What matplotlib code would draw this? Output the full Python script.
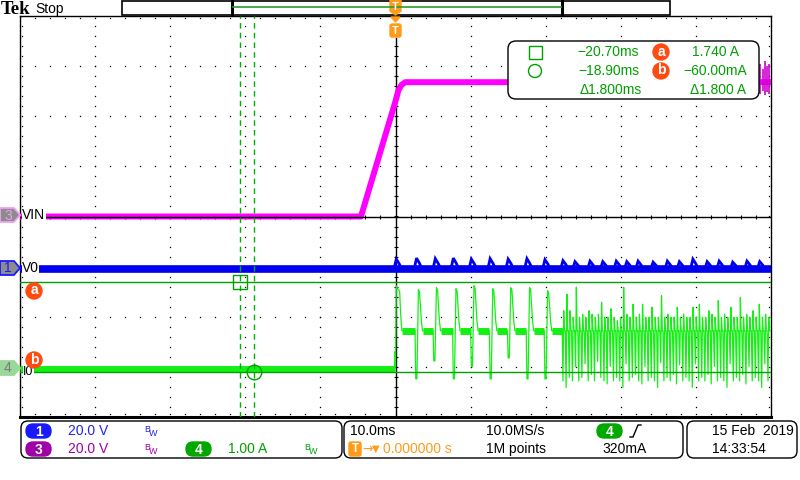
import numpy as np
import matplotlib.pyplot as plt
from matplotlib.patches import FancyBboxPatch, Polygon, Circle, Rectangle

plt.rcParams['font.family'] = ['Liberation Sans', 'DejaVu Sans']

# scope settings
T_DIV = 10.0        # ms/div
CH1_SCALE = 20.0    # V/div
CH3_SCALE = 20.0    # V/div
CH4_SCALE = 1.0     # A/div
CH1_POS = -1.04     # div
CH3_POS = 0.0
CH4_POS = -3.04

# cursors
cur1_t = -20.70   # ms
cur2_t = -18.90
cur_a = 1.740     # A
cur_b = -0.060

# ch3 VIN (V)
vin_t = [-50.0, -4.6, -1.9, 0.0, 0.4, 0.8, 1.3, 50.0]
vin_v = [0.0, 0.0, 27.0, 46.0, 50.5, 52.5, 53.6, 53.6]
vin_burst_t = [48.6, 48.9, 49.2, 49.5, 49.8]
vin_burst_hi = [61.0, 59.0, 62.0, 60.0, 61.0]
vin_burst_lo = [49.0, 50.0, 48.5, 49.5, 49.0]

# ch1 V0 (V) - ripple bumps after turn-on
v0_bump_t = [0.1, 2.8, 5.3, 7.7, 10.1, 12.6, 15.0, 17.5, 19.9, 22.3, 23.9, 25.9, 27.6,
             29.4, 30.8, 32.3, 34.3, 36.2, 37.8, 39.6, 41.5, 43.1, 44.9, 46.8, 48.5]
v0_bump_v = [3.8, 4.2, 4.0, 4.2, 3.8, 4.0, 3.8, 4.0, 3.6, 3.2, 2.8, 3.0, 2.8,
             3.0, 2.8, 3.0, 2.6, 3.0, 2.8, 3.8, 2.8, 3.0, 2.6, 3.0, 2.8]

# ch4 I0 (A)
ch4_start_t = [-50.0, -0.1, -0.05, 0.0, 0.1, 0.3, 0.55, 0.65, 0.75, 0.85]
ch4_start_i = [0.0, 0.0, 0.35, 0.05, 1.66, 1.60, 1.55, 1.20, 0.95, 0.76]
ch4_plateau = 0.76
pulse_t = [2.6, 5.0, 7.6, 10.0, 12.5, 14.9, 17.4, 19.8]
pulse_lo = [-0.20, 0.16, -0.20, 0.05, -0.20, 0.22, -0.20, -0.20]
pulse_hi = [1.58, 1.62, 1.60, 1.66, 1.60, 1.62, 1.62, 1.56]
burst_t0 = 22.3
burst_dt = 0.42
burst_hi = [1.16, 1.49, 1.16, 1.03, 1.63, 1.03, 1.09, 1.03, 1.16, 1.09,
            1.03, 1.09, 1.33, 1.03, 1.03, 1.20, 1.03, 0.96, 1.03, 1.63,
            1.09, 1.03, 1.29, 1.03, 1.09, 1.29, 1.03, 1.03, 1.23, 1.03,
            1.03, 1.46, 1.03, 1.09, 1.03, 1.03, 1.23, 1.03, 1.09, 1.03,
            1.03, 1.23, 1.03, 1.29, 1.03, 1.03, 1.16, 1.09, 1.03, 1.36,
            1.03, 1.09, 1.03, 1.23, 1.03, 1.03, 1.42, 1.03, 1.09, 1.03,
            1.16, 1.03, 1.29, 1.03, 1.09, 1.03]
burst_lo = [-0.24, -0.37, -0.17, -0.24, 0.05, -0.24, -0.17, 0.10, -0.24, -0.11,
            -0.24, 0.15, -0.17, -0.24, -0.30, 0.05, -0.24, -0.17, -0.24, -0.37,
            0.10, -0.24, -0.17, -0.11, -0.24, -0.30, 0.05, -0.24, -0.17, -0.24,
            -0.37, 0.12, -0.24, -0.17, -0.24, -0.11, -0.30, 0.08, -0.24, -0.17,
            -0.24, -0.37, 0.10, -0.24, -0.17, -0.24, -0.11, -0.30, 0.05, -0.24,
            -0.17, -0.24, -0.37, 0.10, -0.24, -0.17, -0.24, -0.11, -0.30, 0.05,
            -0.24, -0.17, -0.24, -0.37, 0.10, -0.24]

GRN = '#00a000'
ORG = '#ff9a1a'
RED = '#ff4a10'


def div(v, scale, pos):
    return np.asarray(v, dtype=float) / scale + pos


# ---- build ch1 trace
v0_t = [-50.0]
v0_v = [0.0]
for tb, vb in zip(v0_bump_t, v0_bump_v):
    v0_t += [tb - 0.3, tb, tb + 0.4, tb + 0.7]
    v0_v += [0.0, vb, vb * 0.5, 0.0]
v0_t.append(50.0)
v0_v.append(0.0)

# ---- build ch4 trace
i_t = list(ch4_start_t)
i_v = list(ch4_start_i)
bands = [(-50.0, -0.1, 0.0), (0.85, pulse_t[0], ch4_plateau)]
for k, (tp, lo, hi) in enumerate(zip(pulse_t, pulse_lo, pulse_hi)):
    i_t += [tp, tp + 0.1, tp + 0.25, tp + 0.45, tp + 0.6, tp + 0.75, tp + 0.85, tp + 1.0]
    i_v += [ch4_plateau, lo, lo, hi, hi - 0.05, 1.2, 0.95, ch4_plateau]
    nxt = pulse_t[k + 1] if k + 1 < len(pulse_t) else burst_t0
    bands.append((tp + 1.0, nxt, ch4_plateau))
i_t.append(burst_t0 - 0.1)
i_v.append(ch4_plateau)
for k, (hi, lo) in enumerate(zip(burst_hi, burst_lo)):
    tb = burst_t0 + k * burst_dt
    i_t += [tb, tb + 0.1, tb + 0.2, tb + 0.3]
    i_v += [lo, hi, ch4_plateau, ch4_plateau]

fig = plt.figure(figsize=(8, 4.8), dpi=100)
ax = fig.add_axes([20 / 800, 63 / 480, 751 / 800, 401 / 480])
ax.set_xlim(-50, 50)
ax.set_ylim(-4, 4)
ax.set_xticks([])
ax.set_yticks([])
for s in ax.spines.values():
    s.set_linewidth(1.0)
ax.spines['bottom'].set_linewidth(2.2)

# graticule
dot = dict(ls='none', marker='s', ms=0.9, color='k', mew=0)
for gx in np.arange(-40, 41, 10):
    if gx == 0:
        continue
    ys = np.arange(-4, 4.01, 0.2)
    ax.plot(np.full_like(ys, gx), ys, **dot)
for gy in np.arange(-3, 3.1, 1):
    if gy == 0:
        continue
    xs = np.arange(-50, 50.1, 2)
    ax.plot(xs, np.full_like(xs, gy), **dot)
xs = np.arange(-50, 50.1, 2)
ys = np.arange(-4, 4.01, 0.2)
ax.plot(xs, np.full_like(xs, 3.96), **dot)
ax.plot(xs, np.full_like(xs, -3.94), **dot)
ax.plot(np.full_like(ys, -49.7), ys, **dot)
ax.plot(np.full_like(ys, 49.7), ys, **dot)
ax.plot(xs, np.zeros_like(xs), ls='none', marker='|', ms=3.5, mew=0.8, color='k')
ax.plot([0, 0], [-4, 3.56], color='k', lw=1.0, zorder=1)
ax.plot(np.zeros_like(ys), ys, ls='none', marker='_', ms=3.5, mew=0.8, color='k')

# traces
ax.plot(vin_t, div(vin_v, CH3_SCALE, CH3_POS), color='#ff00ff', lw=4.3,
        solid_capstyle='butt', zorder=3)
ax.vlines(vin_burst_t, div(vin_burst_lo, CH3_SCALE, CH3_POS),
          div(vin_burst_hi, CH3_SCALE, CH3_POS), color='#d000d0', lw=1.2, zorder=3)
ax.axhline(CH3_POS, color='k', lw=1.0, zorder=3.5)

ax.plot([-50, 50], div([0.0, 0.0], CH1_SCALE, CH1_POS), color='#0000ee', lw=5.5,
        solid_capstyle='butt', zorder=3)
ax.plot(v0_t, div(v0_v, CH1_SCALE, CH1_POS), color='#0000ee', lw=2.0,
        solid_joinstyle='miter', zorder=3)

ax.plot(i_t, div(i_v, CH4_SCALE, CH4_POS), color='#14f014', lw=0.9, zorder=3)
for t0, t1, lev in bands:
    ax.plot([t0, t1], div([lev, lev], CH4_SCALE, CH4_POS), color='#14f014', lw=5,
            solid_capstyle='butt', zorder=3)

# cursors
for ct in (cur1_t, cur2_t):
    ax.axvline(ct, color='#00b000', lw=1.0, ls=(0, (4, 3)), zorder=4)
for cv in (cur_a, cur_b):
    ax.axhline(div(cv, CH4_SCALE, CH4_POS), color=GRN, lw=1.0, zorder=4)
ax.plot(cur1_t, div(cur_a, CH4_SCALE, CH4_POS), marker='s', ms=10, mfc='none',
        mec=GRN, mew=1.0, zorder=5)
ax.plot(cur2_t, div(cur_b, CH4_SCALE, CH4_POS), marker='o', ms=10.5, mfc='none',
        mec=GRN, mew=1.0, zorder=5)

# ---- overlay in pixel coordinates
ov = fig.add_axes([0, 0, 1, 1])
ov.set_xlim(0, 800)
ov.set_ylim(480, 0)
ov.axis('off')
ov.patch.set_visible(False)

ov.text(1, 9, 'Tek', family=['Liberation Serif', 'DejaVu Serif'], weight='bold',
        size=13.5, va='center', ha='left')
ov.text(35, 9, 'Stop', size=10, va='center', ha='left')
ov.add_patch(Rectangle((122, 1), 548, 14, fill=False, ec='k', lw=1.2))
ov.plot([232, 232], [1, 15], color='k', lw=2.2)
ov.plot([562, 562], [1, 15], color='k', lw=2.2)
ov.plot([233, 561], [7, 7], color='#2a9a2a', lw=1.2)

# trigger markers
ov.add_patch(Polygon([(390, 0), (401, 0), (401, 11), (395.5, 15), (390, 11)],
                     closed=True, fc=ORG, ec=ORG))
ov.text(395.5, 6.5, 'T', color='white', weight='bold', size=8, ha='center', va='center')
ov.add_patch(Polygon([(391, 17), (400, 17), (395.5, 22)], closed=True, fc=ORG, ec=ORG))
ov.add_patch(FancyBboxPatch((390, 24), 11, 13, boxstyle='round,pad=0,rounding_size=2',
                            fc=ORG, ec=ORG))
ov.text(395.5, 30.5, 'T', color='white', weight='bold', size=8, ha='center', va='center')


# channel markers
def marker(yc, fc, ec, label, tc):
    ov.add_patch(Polygon([(0, yc - 7), (14, yc - 7), (20, yc), (14, yc + 7), (0, yc + 7)],
                         closed=True, fc=fc, ec=ec, lw=1.3, zorder=6))
    ov.text(8, yc + 0.5, label, color=tc, size=10, ha='center', va='center', zorder=7)


marker(215, '#8c8c8c', '#f0a0f0', '3', '#f0a0f0')
marker(268, '#8c8c8c', '#1a1aff', '1', '#1a1aff')
marker(368, '#9ad89a', '#9ad89a', '4', '#7a7a7a')
ov.text(22, 215, 'VIN', size=10, ha='left', va='center', zorder=6,
        bbox=dict(fc='white', ec='none', pad=0.3))
ov.text(22, 268, 'V0', size=10, ha='left', va='center', zorder=6,
        bbox=dict(fc='white', ec='none', pad=0.3))
ov.text(23, 372, 'I0', size=9, ha='left', va='center', zorder=6,
        bbox=dict(fc='white', ec='none', pad=0.3))


def letter(x, y, ch):
    ov.add_patch(Circle((x, y), 8, fc=RED, ec=RED, zorder=8))
    ov.text(x, y - 0.5, ch, color='white', weight='bold', size=10, ha='center',
            va='center', zorder=9)


letter(34, 291, 'a')
letter(34, 360, 'b')

# readout box
ov.add_patch(FancyBboxPatch((508, 41), 251, 58, boxstyle='round,pad=0,rounding_size=8',
                            fc='white', ec='k', lw=1.0, zorder=5))
ov.add_patch(Rectangle((528.5, 45.5), 13, 13, fill=False, ec=GRN, lw=1.0, zorder=6))
ov.add_patch(Circle((535, 71), 6.5, fill=False, ec=GRN, lw=1.0, zorder=6))
ov.text(639, 52, f'\u2212{abs(cur1_t):.2f}ms', color=GRN, size=10, ha='right', va='center', zorder=6)
ov.text(639, 71, f'\u2212{abs(cur2_t):.2f}ms', color=GRN, size=10, ha='right', va='center', zorder=6)
ov.text(642, 90, f'\u0394{cur2_t - cur1_t:.3f}ms', color=GRN, size=10, ha='right', va='center', zorder=6)
letter(661, 52, 'a')
letter(661, 71, 'b')
ov.text(739, 52, f'{cur_a:.3f} A', color=GRN, size=10, ha='right', va='center', zorder=9)
ov.text(747, 71, f'\u2212{abs(cur_b) * 1000:.2f}mA', color=GRN, size=10, ha='right', va='center', zorder=9)
ov.text(746, 90, f'\u0394{cur_a - cur_b:.3f} A', color=GRN, size=10, ha='right', va='center', zorder=9)

# bottom status boxes
for x0, w in ((21, 321), (344, 339), (687, 110)):
    ov.add_patch(FancyBboxPatch((x0, 421), w, 37, boxstyle='round,pad=0,rounding_size=7',
                                fc='white', ec='k', lw=1.0))


def pill(x0, yc, label, fc):
    ov.add_patch(FancyBboxPatch((x0, yc - 7), 25, 14, boxstyle='round,pad=0,rounding_size=7',
                                fc=fc, ec=fc))
    ov.text(x0 + 12.5, yc + 0.5, label, color='white', weight='bold', size=10,
            ha='center', va='center')


def bw(x, yc, c):
    ov.text(x, yc - 2, 'B', color=c, size=6.5, ha='left', va='center')
    ov.text(x + 4.5, yc + 2.5, 'W', color=c, size=6.5, ha='left', va='center')


BLU = '#2323e6'
PUR = '#a000a8'
pill(26, 431, '1', '#1a1aff')
ov.text(68, 431, f'{CH1_SCALE:.1f} V', color=BLU, size=10, va='center')
bw(144, 431, BLU)
pill(26, 449, '3', PUR)
ov.text(68, 449, f'{CH3_SCALE:.1f} V', color=PUR, size=10, va='center')
bw(144, 449, PUR)
pill(186, 449, '4', '#00a800')
ov.text(228, 449, f'{CH4_SCALE:.2f} A', color='#00a000', size=10, va='center')
bw(304, 449, '#00a000')

ov.text(350, 431, f'{T_DIV:.1f}ms', size=10, va='center')
ov.add_patch(FancyBboxPatch((349, 442), 12, 14, boxstyle='round,pad=0,rounding_size=2',
                            fc=ORG, ec=ORG))
ov.text(355, 449.5, 'T', color='white', weight='bold', size=8.5, ha='center', va='center')
ov.text(362, 449, '\u2192', color=ORG, size=9, va='center', family=['DejaVu Sans'])
ov.text(372, 449, '\u25bc', color=ORG, size=7, va='center', family=['DejaVu Sans'])
ov.text(383, 449, '0.000000 s', color=ORG, size=10, va='center')
ov.text(486, 431, '10.0MS/s', size=10, va='center')
ov.text(486, 449, '1M points', size=10, va='center')
pill(597, 431, '4', '#00a800')
ov.plot([630, 633, 638, 641], [437, 437, 425, 425], color='k', lw=1.0)
ov.text(602, 449, '320mA', size=10, va='center')

ov.text(712, 431, '15 Feb  2019', size=10, va='center')
ov.text(712, 449, '14:33:54', size=10, va='center')

fig.savefig('out.png', dpi=100)
